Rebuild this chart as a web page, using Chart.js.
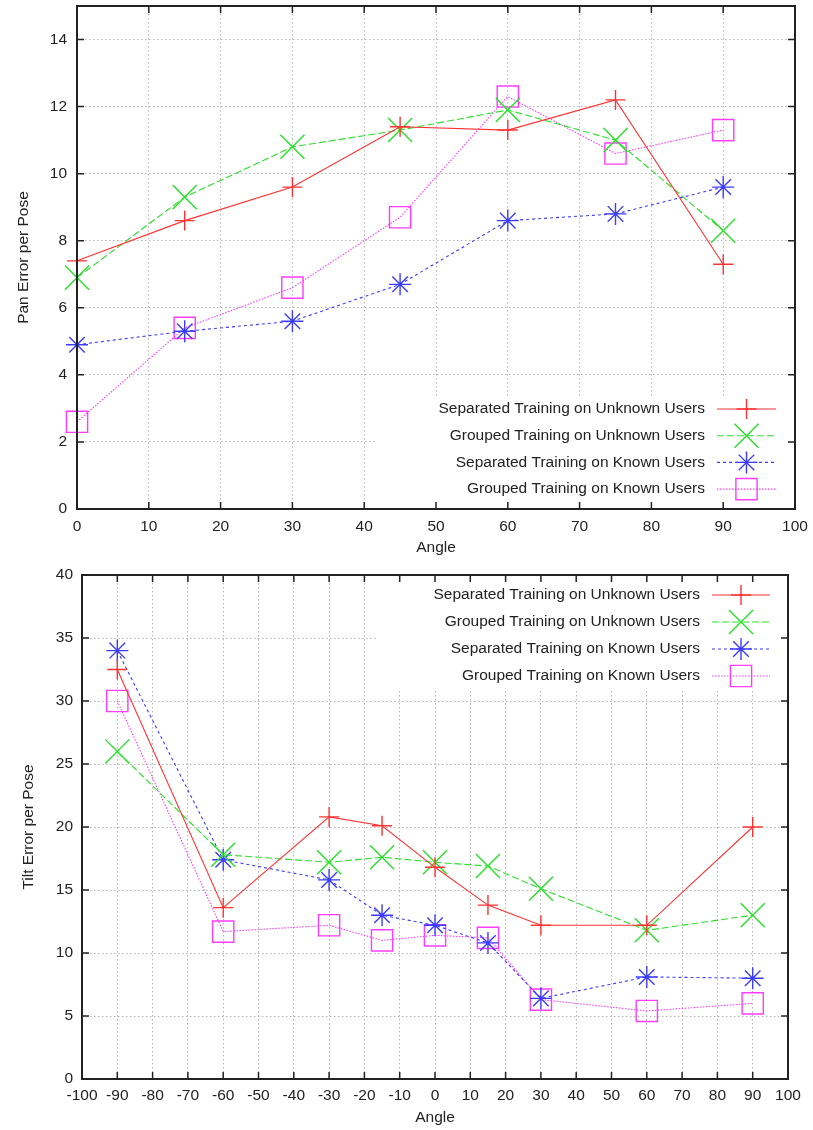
<!DOCTYPE html>
<html>
<head>
<meta charset="utf-8">
<script src="https://cdn.jsdelivr.net/npm/chart.js@4.4.0/dist/chart.umd.min.js"></script>
<style>
  html, body { margin: 0; padding: 0; background: #fff; }
  #panBox { position: absolute; left: 0; top: 0; width: 813px; height: 558px; }
  #tiltBox { position: absolute; left: 0; top: 558px; width: 813px; height: 572px; }
</style>
</head>
<body>
<div id="panBox"><canvas id="panChart"></canvas></div>
<div id="tiltBox"><canvas id="tiltChart"></canvas></div>
<script>
// series names (same four in both plots)
const seriesLabels = [
  'Separated Training on Unknown Users',
  'Grouped Training on Unknown Users',
  'Separated Training on Known Users',
  'Grouped Training on Known Users'
];

// top plot: pan error
const panAngles = [0, 15, 30, 45, 60, 75, 90];
const panSepUnknown = [7.4, 8.6, 9.6, 11.4, 11.3, 12.2, 7.3];
const panGrpUnknown = [6.9, 9.3, 10.8, 11.3, 11.9, 11.0, 8.3];
const panSepKnown = [4.9, 5.3, 5.6, 6.7, 8.6, 8.8, 9.6];
const panGrpKnown = [2.6, 5.4, 6.6, 8.7, 12.3, 10.6, 11.3];

// bottom plot: tilt error
const tiltAngles = [-90, -60, -30, -15, 0, 15, 30, 60, 90];
const tiltSepUnknown = [32.5, 13.6, 20.8, 20.1, 16.8, 13.8, 12.2, 12.2, 20.0];
const tiltGrpUnknown = [26.0, 17.8, 17.2, 17.6, 17.2, 16.9, 15.1, 11.8, 13.0];
const tiltSepKnown = [34.0, 17.4, 15.8, 13.0, 12.2, 10.8, 6.4, 8.1, 8.0];
const tiltGrpKnown = [30.0, 11.7, 12.2, 11.0, 11.4, 11.2, 6.3, 5.4, 6.0];

// gnuplot-ish line/point styles
const seriesStyles = [
  { color: 'rgb(255,50,50)', dash: [], point: 'cross', radius: 10 },
  { color: 'rgb(40,225,40)', dash: [7, 3], point: 'crossRot', radius: 17 },
  { color: 'rgb(60,60,255)', dash: [3, 3], point: 'star', radius: 11 },
  { color: 'rgb(255,60,255)', dash: [1.5, 1.5], point: 'rect', radius: 15 }
];

const FONT = '"Liberation Sans", Arial, sans-serif';
const FONT_SIZE = 15.5;
const INK = '#222';

function buildDatasets(angles, seriesList) {
  return seriesList.map((vals, i) => ({
    label: seriesLabels[i],
    data: angles.map((a, j) => ({ x: a, y: vals[j] })),
    borderColor: seriesStyles[i].color,
    borderDash: seriesStyles[i].dash,
    borderWidth: 1.1,
    pointStyle: seriesStyles[i].point,
    pointRadius: seriesStyles[i].radius,
    pointHoverRadius: seriesStyles[i].radius,
    pointBorderColor: seriesStyles[i].color,
    pointBackgroundColor: 'rgba(0,0,0,0)',
    pointBorderWidth: 1.4,
    fill: false,
    tension: 0,
    clip: false
  }));
}

// white box behind the key, then the key itself (text right, sample on the right)
const keyPlugin = {
  id: 'gnuKey',
  beforeDatasetsDraw(chart, args, opts) {
    const { ctx, chartArea: a } = chart;
    const top = opts.maskTop != null ? opts.maskTop : a.top;
    const bottom = opts.maskBottom != null ? opts.maskBottom : a.bottom;
    ctx.save();
    ctx.fillStyle = '#fff';
    ctx.fillRect(opts.maskLeft, top, a.right - opts.maskLeft, bottom - top);
    ctx.restore();
  },
  afterDatasetsDraw(chart, args, opts) {
    const ctx = chart.ctx;
    ctx.save();
    chart.data.datasets.forEach((ds, i) => {
      const y = opts.top + i * opts.step;
      ctx.font = FONT_SIZE + 'px ' + FONT;
      ctx.fillStyle = INK;
      ctx.textAlign = 'right';
      ctx.textBaseline = 'middle';
      ctx.fillText(ds.label, opts.textRight, y);
      ctx.strokeStyle = ds.borderColor;
      ctx.lineWidth = 1.1;
      ctx.setLineDash(ds.borderDash);
      ctx.beginPath();
      ctx.moveTo(opts.textRight + 12, y);
      ctx.lineTo(opts.textRight + 12 + opts.sample, y);
      ctx.stroke();
      ctx.setLineDash([]);
      ctx.lineWidth = 1.4;
      ctx.fillStyle = 'rgba(0,0,0,0)';
      Chart.helpers.drawPoint(ctx, {
        pointStyle: ds.pointStyle, radius: ds.pointRadius, rotation: 0, borderWidth: 1.4
      }, opts.textRight + 12 + opts.sample / 2, y);
    });
    ctx.restore();
  }
};

// full border box with inward tick marks
const framePlugin = {
  id: 'gnuFrame',
  afterDatasetsDraw(chart) {
    const { ctx, chartArea: a, scales } = chart;
    ctx.save();
    ctx.setLineDash([]);
    ctx.strokeStyle = INK;
    ctx.lineWidth = 1.5;
    ctx.beginPath();
    scales.x.ticks.forEach(t => {
      const px = scales.x.getPixelForValue(t.value);
      if (px <= a.left + 1 || px >= a.right - 1) return;
      ctx.moveTo(px, a.bottom); ctx.lineTo(px, a.bottom - 7);
      ctx.moveTo(px, a.top); ctx.lineTo(px, a.top + 7);
    });
    scales.y.ticks.forEach(t => {
      const py = scales.y.getPixelForValue(t.value);
      if (py <= a.top + 1 || py >= a.bottom - 1) return;
      ctx.moveTo(a.left, py); ctx.lineTo(a.left + 7, py);
      ctx.moveTo(a.right, py); ctx.lineTo(a.right - 7, py);
    });
    ctx.stroke();
    ctx.lineWidth = 2;
    ctx.strokeRect(a.left, a.top, a.right - a.left, a.bottom - a.top);
    ctx.restore();
  }
};

function axis(opts) {
  return {
    type: 'linear',
    min: opts.min,
    max: opts.max,
    ticks: {
      stepSize: opts.step,
      color: INK,
      font: { family: FONT, size: FONT_SIZE },
      padding: opts.pad,
      autoSkip: false,
      maxRotation: 0,
      minRotation: 0,
      callback: v => (opts.hide && opts.hide.includes(v)) ? '' : v
    },
    grid: { color: '#b4b4b4', lineWidth: 1, drawTicks: false },
    border: { display: false, dash: [1.5, 2.5] },
    title: {
      display: true, text: opts.title, color: INK,
      font: { family: FONT, size: FONT_SIZE }, padding: opts.titlePad
    },
    afterFit: s => {
      opts.fit(s);
      // chart area comes from layout padding only
      s.paddingTop = 0; s.paddingBottom = 0; s.paddingLeft = 0; s.paddingRight = 0;
    }
  };
}

function makeChart(id, angles, seriesList, cfg) {
  return new Chart(document.getElementById(id), {
    type: 'line',
    data: { datasets: buildDatasets(angles, seriesList) },
    options: {
      responsive: true,
      maintainAspectRatio: false,
      animation: false,
      layout: { padding: cfg.padding, autoPadding: false },
      plugins: {
        legend: { display: false },
        tooltip: { enabled: false },
        gnuKey: cfg.key
      },
      scales: { x: cfg.x, y: cfg.y }
    },
    plugins: [keyPlugin, framePlugin]
  });
}

makeChart('panChart', panAngles, [panSepUnknown, panGrpUnknown, panSepKnown, panGrpKnown], {
  padding: { top: 6, right: 18, left: 0, bottom: 0 },
  x: axis({ min: 0, max: 100, step: 10, pad: 8, title: 'Angle', titlePad: { top: 0, bottom: 1 },
            fit: s => { s.height = 49; } }),
  y: axis({ min: 0, max: 15, step: 2, pad: 10, hide: [15], title: 'Pan Error per Pose',
            titlePad: { top: 14, bottom: 0 }, fit: s => { s.width = 77; } }),
  key: { textRight: 705, top: 409, step: 26.7, sample: 59, maskLeft: 375, maskTop: 397 }
});

makeChart('tiltChart', tiltAngles, [tiltSepUnknown, tiltGrpUnknown, tiltSepKnown, tiltGrpKnown], {
  padding: { top: 17, right: 25, left: 0, bottom: 0 },
  x: axis({ min: -100, max: 100, step: 10, pad: 7, title: 'Angle', titlePad: { top: 0, bottom: 3 },
            fit: s => { s.height = 51; } }),
  y: axis({ min: 0, max: 40, step: 5, pad: 9, title: 'Tilt Error per Pose',
            titlePad: { top: 19, bottom: 0 }, fit: s => { s.width = 82; } }),
  key: { textRight: 700, top: 37, step: 27, sample: 58, maskLeft: 377, maskBottom: 132 }
});
</script>
</body>
</html>
